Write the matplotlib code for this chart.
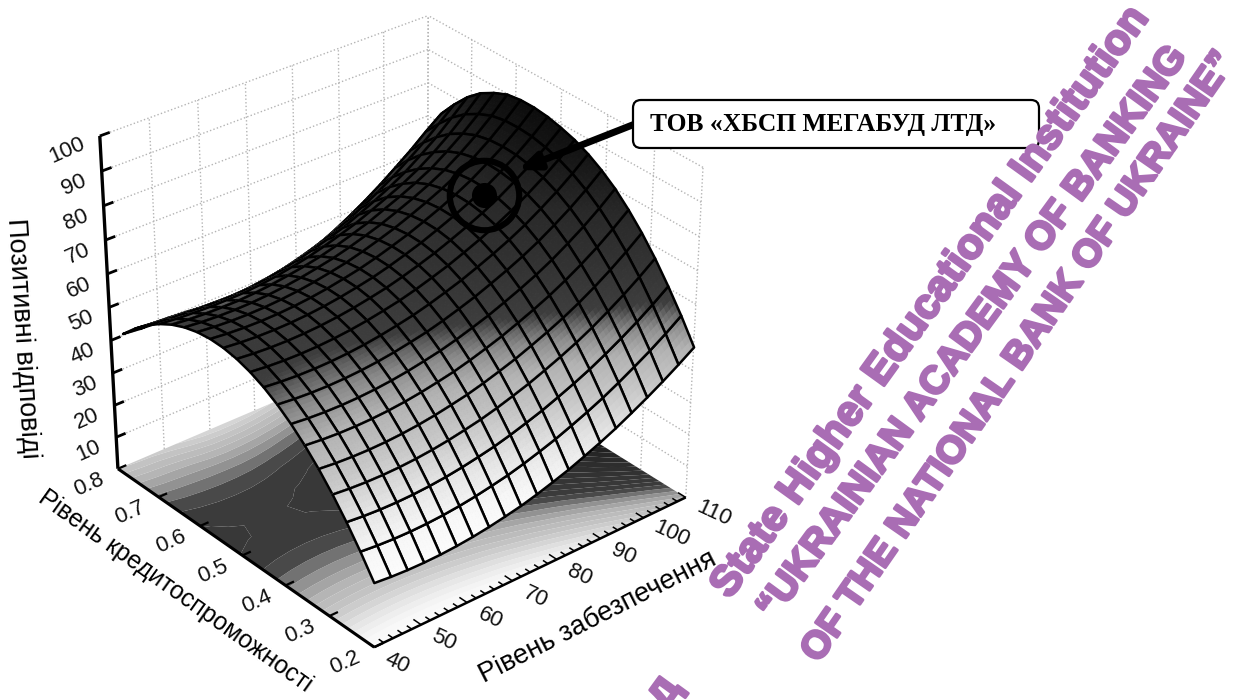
import numpy as np
import matplotlib
matplotlib.use('Agg')
import matplotlib.pyplot as plt
import matplotlib.patheffects as pe
from matplotlib.colors import LinearSegmentedColormap, Normalize
from matplotlib.patches import FancyBboxPatch, FancyArrowPatch
from mpl_toolkits.mplot3d.art3d import Poly3DCollection, Line3DCollection

# ---------- data ----------
supply_level = [40, 43.5, 47, 50.5, 54, 57.5, 61, 64.5, 68, 71.5, 75, 78.5, 82, 85.5, 89, 92.5, 96, 99.5, 103, 106.5, 110]
credit_level = [0.2, 0.23, 0.26, 0.29, 0.32, 0.35, 0.38, 0.41, 0.44, 0.47, 0.5,
                0.53, 0.56, 0.59, 0.62, 0.65, 0.68, 0.71, 0.74, 0.77, 0.8]
# one row per supply level, one column per credit level
positive_responses = [
    [19.9,26.6,32.7,38.2,43.1,47.4,51.1,54.2,56.7,58.6,59.9,60.6,60.7,60.2,59.1,57.4,55.1,52.2,48.7,44.6,39.9],
    [19.4,26.1,32.2,37.7,42.6,46.9,50.6,53.7,56.2,58.1,59.4,60.1,60.2,59.7,58.6,56.9,54.6,51.7,48.2,44.1,39.4],
    [19.1,25.8,31.9,37.4,42.3,46.6,50.3,53.4,55.9,57.8,59.1,59.8,59.9,59.4,58.3,56.6,54.3,51.4,47.9,43.8,39.1],
    [19.0,25.7,31.8,37.3,42.2,46.5,50.2,53.3,55.8,57.7,59.0,59.7,59.8,59.3,58.2,56.5,54.1,51.1,47.5,43.2,38.3],
    [19.1,25.8,31.9,37.4,42.3,46.6,50.3,53.4,55.9,57.8,59.1,59.8,59.9,59.4,58.3,56.5,54.1,50.9,46.9,42.3,37.0],
    [19.4,26.1,32.2,37.7,42.6,46.9,50.6,53.7,56.2,58.1,59.4,60.1,60.2,59.7,58.6,56.8,54.2,50.8,46.6,41.6,35.8],
    [19.9,26.6,32.7,38.2,43.1,47.4,51.1,54.2,56.7,58.6,59.9,60.6,60.7,60.2,59.1,57.3,54.6,51.0,46.7,41.4,35.3],
    [20.6,27.3,33.4,38.9,43.8,48.1,51.8,54.9,57.4,59.3,60.6,61.3,61.4,60.9,59.8,58.0,55.2,51.6,47.0,41.6,35.3],
    [21.5,28.2,34.3,39.8,44.7,49.0,52.7,55.8,58.3,60.2,61.5,62.2,62.3,61.8,60.7,58.8,56.1,52.4,47.7,42.2,35.7],
    [22.5,29.2,35.3,40.8,45.7,50.0,53.7,56.8,59.3,61.2,62.5,63.2,63.3,62.8,61.7,59.8,57.1,53.4,48.7,43.2,36.7],
    [23.8,30.5,36.6,42.1,47.0,51.3,55.0,58.1,60.6,62.5,63.8,64.5,64.6,64.1,63.0,61.1,58.4,54.7,50.0,44.5,38.0],
    [25.3,32.0,38.1,43.6,48.5,52.8,56.5,59.6,62.1,64.0,65.3,66.0,66.1,65.6,64.5,62.6,59.9,56.2,51.5,46.0,39.5],
    [26.9,33.6,39.7,45.2,50.1,54.4,58.1,61.2,63.7,65.6,66.9,67.6,67.7,67.2,66.1,64.2,61.5,57.8,53.3,47.8,41.4],
    [28.8,35.5,41.6,47.1,52.0,56.3,60.0,63.1,65.6,67.5,68.8,69.5,69.6,69.1,68.0,66.2,63.5,59.9,55.4,50.1,43.9],
    [30.8,37.5,43.6,49.1,54.0,58.3,62.0,65.1,67.6,69.5,70.8,71.5,71.6,71.1,70.0,68.2,65.6,62.1,57.8,52.7,46.8],
    [33.0,39.7,45.8,51.3,56.2,60.5,64.2,67.3,69.8,71.7,73.0,73.7,73.8,73.3,72.2,70.4,67.8,64.5,60.4,55.5,49.8],
    [35.5,42.2,48.3,53.8,58.7,63.0,66.7,69.8,72.3,74.2,75.5,76.2,76.3,75.8,74.7,72.9,70.4,67.2,63.3,58.6,53.2],
    [38.1,44.9,51.0,56.6,61.5,65.8,69.6,72.7,75.2,77.1,78.4,79.1,79.3,78.8,77.8,76.1,73.6,70.5,66.6,62.0,56.7],
    [40.9,47.7,53.9,59.6,64.6,68.9,72.7,75.8,78.3,80.2,81.5,82.3,82.5,82.2,81.3,79.6,77.2,74.0,70.1,65.5,60.3],
    [43.9,50.8,57.1,62.9,68.0,72.4,76.2,79.3,81.8,83.7,85.0,85.9,86.2,86.1,85.3,83.6,81.3,78.1,74.0,69.4,64.1],
    [47.1,54.2,60.6,66.5,71.7,76.2,80.1,83.2,85.7,87.6,88.9,89.9,90.4,90.4,89.8,88.1,85.8,82.4,78.0,73.0,67.5],
]
company_point = (94.5, 0.515, 76)
company_name = 'ТОВ «ХБСП МЕГАБУД ЛТД»'
x_ticks = [40, 50, 60, 70, 80, 90, 100, 110]
c_ticks = [0.2, 0.3, 0.4, 0.5, 0.6, 0.7, 0.8]
z_ticks = [10, 20, 30, 40, 50, 60, 70, 80, 90, 100]
x_minor = [40, 42, 44, 46, 48, 50, 52, 54, 56, 58, 60, 62, 64, 66, 68, 70, 72, 74, 76, 78, 80, 82, 84, 86, 88,
           90, 92, 94, 96, 98, 100, 102, 104, 106, 108, 110]
x_title = 'Рівень забезпечення'
c_title = 'Рівень кредитоспроможності'
z_title = 'Позитивні відповіді'
watermark = ['State Higher Educational Institution',
             '“UKRAINIAN ACADEMY OF BANKING',
             'OF THE NATIONAL BANK OF UKRAINE”',
             'заклад']

# ---------- camera: box corners seen in the picture ----------
unit_corners = np.array([[0,0,0],[1,0,0],[0,1,0],[1,1,0],[0,1,1],[1,1,1],[1,0,1]], float)
pixel_corners = np.array([[375,648],[685,497],[117,467],[428,338],[100,137],[428,15],[703,167]], float)
A = []
for (u, v, w), (px, py) in zip(unit_corners, pixel_corners):
    A.append([u, v, w, 1, 0, 0, 0, 0, -px*u, -px*v, -px*w, -px])
    A.append([0, 0, 0, 0, u, v, w, 1, -py*u, -py*v, -py*w, -py])
P = np.linalg.svd(np.array(A))[2][-1].reshape(3, 4)
if P[2] @ [.5, .5, .5, 1] < 0:
    P = -P
S = np.array([[1/70, 0, 0, -40/70], [0, 1/.6, 0, -.2/.6], [0, 0, .01, 0], [0, 0, 0, 1]])
M4 = np.vstack([P[0], P[1], [0, 0, 1, 0], P[2]]) @ S

def project(x, c, z):
    v = M4 @ np.array([x, c, z, 1.0])
    return v[0]/v[3], v[1]/v[3]

cam = np.linalg.svd(P)[2][-1]
cam = cam[:3]/cam[3]

# ---------- figure ----------
fig = plt.figure(figsize=(12.34, 7), dpi=100, facecolor='white')
ax = fig.add_axes([0, 0, 1, 1], projection='3d')
ax.set_axis_off()
ax.computed_zorder = False
ax.get_proj = lambda: M4
ax.apply_aspect = lambda position=None: None
ax.set_xlim(40, 110); ax.set_ylim(0.2, 0.8); ax.set_zlim(0, 100)

def add_lines(segments, **kw):
    ax.add_collection3d(Line3DCollection(segments, **kw), autolim=False)

stops = [(0,1),(15,1),(25,.97),(32,.9),(40,.78),(47,.7),(52,.55),(55,.38),(57,.24),(65,.2),(75,.16),(85,.08),(90,.05),(100,.03)]
cmap = LinearSegmentedColormap.from_list('grey_z', [(z/100, (g, g, g)) for z, g in stops], N=512)
norm = Normalize(0, 100)

X = np.array(supply_level, float)
C = np.array(credit_level, float)
Z = np.array(positive_responses, float)
CC, XX = np.meshgrid(C, X)

# walls
wall = []
for z in z_ticks:
    wall.append([(40, .8, z), (110, .8, z)])
    wall.append([(110, .2, z), (110, .8, z)])
for x in x_ticks[1:]:
    wall.append([(x, .8, 0), (x, .8, 100)])
for c in c_ticks:
    wall.append([(110, c, 0), (110, c, 100)])
add_lines(wall, colors='#b4b4b4', linewidths=1.0, linestyles=[(0, (1, 1.6))], zorder=1)

# floor
ax.contourf(XX, CC, Z, levels=np.arange(15, 92.5, 2.5), zdir='z', offset=0, cmap=cmap, norm=norm, zorder=2, antialiased=True)

# surface, cell by cell from back to front
n_sub = 5
t = np.linspace(0, 1, n_sub + 1)
cells = []
for i in range(len(X) - 1):
    for j in range(len(C) - 2):
        centre = np.array([(X[i]+X[i+1]-80)/140, ((C[j]+C[j+1])/2-.2)/.6, Z[i:i+2, j:j+2].mean()/100])
        cells.append((np.linalg.norm(centre - cam), i, j))
cells.sort(reverse=True)
rank = 3.0
for _, i, j in cells:
    x0, x1, c0, c1 = X[i], X[i+1], C[j], C[j+1]
    z00, z01, z10, z11 = Z[i, j], Z[i, j+1], Z[i+1, j], Z[i+1, j+1]
    sx, sc = np.meshgrid(t, t, indexing='ij')
    xs = x0 + (x1-x0)*sx
    cs = c0 + (c1-c0)*sc
    zs = z00*(1-sx)*(1-sc) + z01*(1-sx)*sc + z10*sx*(1-sc) + z11*sx*sc
    polys, cols = [], []
    for a in range(n_sub):
        for b in range(n_sub):
            polys.append([(xs[a, b], cs[a, b], zs[a, b]), (xs[a+1, b], cs[a+1, b], zs[a+1, b]),
                          (xs[a+1, b+1], cs[a+1, b+1], zs[a+1, b+1]), (xs[a, b+1], cs[a, b+1], zs[a, b+1])])
            cols.append(cmap(norm(zs[a:a+2, b:b+2].mean())))
    fill = Poly3DCollection(polys, facecolors=cols, edgecolors=cols, linewidths=0.7, zorder=rank)
    ax.add_collection3d(fill, autolim=False)
    outline = Poly3DCollection([[(x0, c0, z00), (x1, c0, z10), (x1, c1, z11), (x0, c1, z01)]],
                               facecolors=[(0, 0, 0, 0)], edgecolors=['black'], linewidths=1.8, zorder=rank+.5)
    ax.add_collection3d(outline, autolim=False)
    rank += 1

top = rank + 10
# axes lines
add_lines([[(40, .8, 0), (40, .8, 100)]], colors='black', linewidths=2.4, zorder=top)
add_lines([[(40, .8, 0), (40, .2, 0)]], colors='black', linewidths=2.2, zorder=top)
add_lines([[(40, .2, 0), (110, .2, 0)]], colors='black', linewidths=1.8, zorder=top)
add_lines([[(40, .8, z), (42, .8, z)] for z in z_ticks], colors='black', linewidths=2, zorder=top)
add_lines([[(40, c, 0), (41.8, c, 0)] for c in c_ticks], colors='black', linewidths=1.6, zorder=top)
add_lines([[(x, .2, 0), (x, .2 + (.017 if x % 10 == 0 else .011), 0)] for x in x_minor],
          colors='black', linewidths=1.1, zorder=top)

ax.viewLim.intervalx = (0, 1234)
ax.viewLim.intervaly = (700, 0)

# overlay for text and callout
ov = fig.add_axes([0, 0, 1, 1], facecolor='none')
ov.set_xlim(0, 1234); ov.set_ylim(700, 0); ov.axis('off')
sans = ['Liberation Sans', 'DejaVu Sans']
tick_font = dict(family=sans, fontsize=16, ha='center', va='center', color='#111111')
for z in z_ticks:
    px, py = project(40, .8, z)
    ov.text(px - (33 if z == 100 else 28), py + 14, str(z), rotation=24, **tick_font)
for c in c_ticks:
    px, py = project(40, c, 0)
    ov.text(px - 29, py + 16, f'{c:.1f}', rotation=24, **tick_font)
for x in x_ticks:
    px, py = project(x, .2, 0)
    ov.text(px + (28 if x >= 100 else 23), py + 16, str(x), rotation=-25, **tick_font)
ov.text(22, 338, z_title, rotation=-86.5, family=sans, fontsize=19.5, ha='center', va='center', rotation_mode='anchor')
ov.text(175, 591, c_title, rotation=-35.5, family=sans, fontsize=17.8, ha='center', va='center', rotation_mode='anchor')
ov.text(598, 617, x_title, rotation=27, family=sans, fontsize=19.5, ha='center', va='center', rotation_mode='anchor')

# company marker
cx, cy = project(*company_point)
ov.plot([cx], [cy], 'o', ms=50, mfc='none', mec='black', mew=4.4, zorder=4)
ov.plot([cx], [cy], 'o', ms=17, mfc='black', mec='black', zorder=4)

# callout
ov.add_patch(FancyArrowPatch((640, 122), (518, 170), arrowstyle='-|>,head_length=12,head_width=5', lw=5,
                             color='black', shrinkA=0, shrinkB=0, zorder=5))
ov.add_patch(FancyBboxPatch((638, 105), 396, 38, boxstyle='round,pad=5,rounding_size=8', fc='white', ec='black', lw=1.6, zorder=6))
ov.text(650, 124, company_name, family=['Liberation Serif', 'DejaVu Serif'], fontweight='bold', fontsize=18.4,
        ha='left', va='center', color='black', zorder=7)

# watermark
wm = dict(family=['Liberation Sans Narrow', 'Liberation Sans'], fontweight='bold', color='#A96DB4',
          va='center', rotation_mode='anchor', zorder=8, clip_on=True,
          path_effects=[pe.withStroke(linewidth=2, foreground='#A96DB4')])
ov.text(931, 302, watermark[0], rotation=54.2, ha='center', fontsize=30.5, **wm)
ov.text(973, 333, watermark[1], rotation=53.8, ha='center', fontsize=28, **wm)
ov.text(1019, 357, watermark[2], rotation=55.3, ha='center', fontsize=27.5, **wm)
ov.text(672, 680, watermark[3], rotation=54, ha='right', fontsize=33, **wm)

fig.savefig('out.png', dpi=100)
